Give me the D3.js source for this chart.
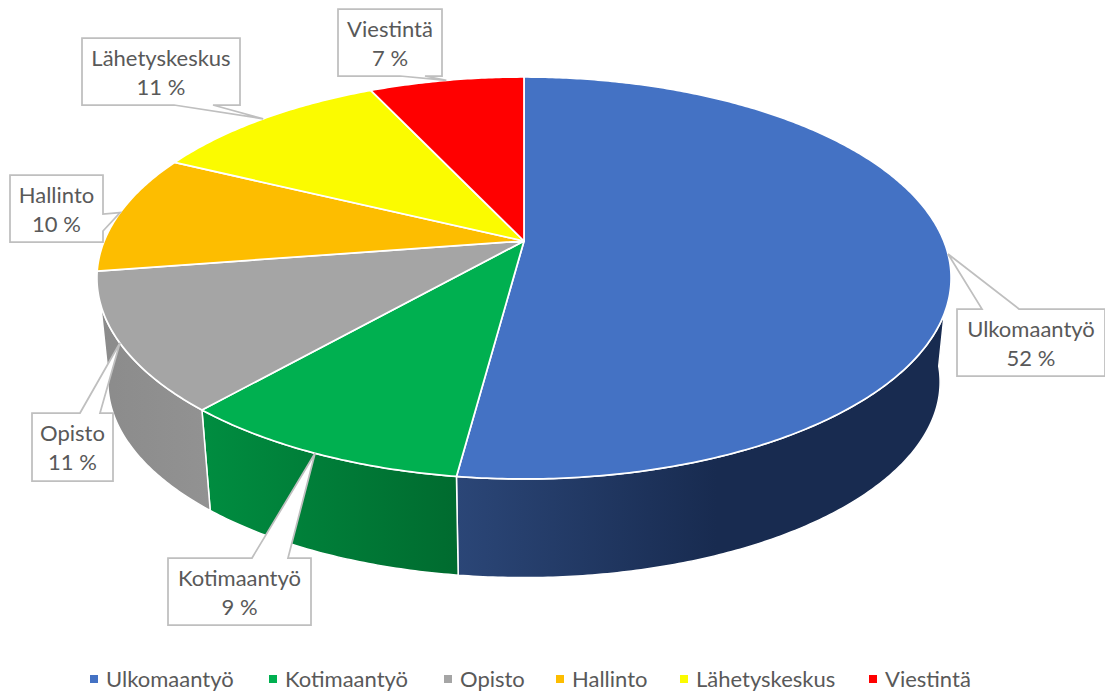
<!DOCTYPE html>
<html>
<head>
<meta charset="utf-8">
<script src="https://cdn.jsdelivr.net/npm/d3@7"></script>
<style>
  html, body { margin: 0; padding: 0; background: #fff; }
  text { font-family: Lato, "Open Sans", sans-serif; fill: #595959; }
</style>
</head>
<body>
<div id="chart"></div>
<script>
// data (the labels show these rounded)
const categories = ["Ulkomaantyö", "Kotimaantyö", "Opisto", "Hallinto", "Lähetyskeskus", "Viestintä"]
const shares = [52.1, 9.4, 11.1, 9.6, 10.8, 7.0]
const shareLabels = ["52 %", "9 %", "11 %", "10 %", "11 %", "7 %"]

const colors = ["#4472c4", "#00b050", "#a5a5a5", "#fdbd00", "#fbfb00", "#ff0000"]
// wall gradient, left to right
const wallShades = [["#2b4677", "#182b50"], ["#008d40", "#006b2f"], ["#8b8b8b", "#929292"], null, null, null]

const width = 1105
const height = 691

// the pie is seen in perspective: apex is not in the middle of the ellipse
const apex = {x: 524, y: 241}
const persp = 0.184
const topRim = {a: 419.8, b: 194.2, y: apex.y}
const bottomRim = {a: 409, b: 189, y: 346}

function project(angle, rim) {
    const u = Math.sin(angle), v = Math.cos(angle)
    const w = 1 + persp * v
    return [apex.x + rim.a * u / w, rim.y - rim.b * v / w]
}

function arcPoints(a0, a1, rim) {
    const n = Math.max(2, Math.ceil(Math.abs(a1 - a0) / 0.01))
    return d3.range(n + 1).map(i => project(a0 + (a1 - a0) * i / n, rim))
}

const svg = d3.select("#chart").append("svg")
    .attr("width", width)
    .attr("height", height)
    .style("display", "block")

const color = d3.scaleOrdinal().domain(categories).range(colors)
const pie = d3.pie().sort(null).value(d => d.share)
const slices = pie(categories.map((c, i) => ({name: c, share: shares[i], label: shareLabels[i], shade: wallShades[i]})))
const line = d3.line()
const defs = svg.append("defs")

// side walls, only for slices facing the viewer
const wallFrom = 96 * Math.PI / 180
const front = slices.filter(s => {
    const mid = (s.startAngle + s.endAngle) / 2
    return mid > Math.PI / 2 && mid < 3 * Math.PI / 2
})

front.forEach((s, i) => {
    const a0 = Math.max(s.startAngle, wallFrom)
    const a1 = s.endAngle
    const pts = arcPoints(a0, a1, topRim).concat(arcPoints(a1, a0, bottomRim))
    const xs = pts.map(p => p[0])
    // blue goes flat well before its right end
    const x1 = i == 0 ? d3.min(xs) + 260 : d3.max(xs)
    const grad = defs.append("linearGradient")
        .attr("id", "wall" + i)
        .attr("gradientUnits", "userSpaceOnUse")
        .attr("x1", d3.min(xs)).attr("x2", x1)
        .attr("y1", 0).attr("y2", 0)
    grad.append("stop").attr("offset", 0).attr("stop-color", s.data.shade[0])
    grad.append("stop").attr("offset", 1).attr("stop-color", s.data.shade[1])
    svg.append("path")
        .attr("d", line(pts) + "Z")
        .attr("fill", "url(#wall" + i + ")")
        .attr("stroke", "#fff")
        .attr("stroke-width", 1.5)
        .attr("stroke-linejoin", "round")
})

// top face
svg.selectAll("path.slice")
    .data(slices)
    .enter()
    .append("path")
    .attr("class", "slice")
    .attr("d", d => line([[apex.x, apex.y]].concat(arcPoints(d.startAngle, d.endAngle, topRim))) + "Z")
    .attr("fill", d => color(d.data.name))
    .attr("stroke", "#fff")
    .attr("stroke-width", 1.75)
    .attr("stroke-linejoin", "round")

// callouts: box and the side of the box the pointer leaves from
const callouts = [
    {x: 957, y: 309, w: 148, h: 67, side: "top", p0: 982, p1: 1019},
    {x: 168, y: 558, w: 143, h: 67, side: "top", p0: 252, p1: 288},
    {x: 32, y: 413, w: 81, h: 68, side: "top", p0: 80, p1: 100},
    {x: 10, y: 175, w: 93, h: 67, side: "right", p0: 214, p1: 231},
    {x: 82, y: 38, w: 158, h: 67, side: "bottom", p0: 174, p1: 213},
    {x: 338, y: 9, w: 104, h: 67, side: "bottom", p0: 400, p1: 425}
]

function calloutPath(c, tip) {
    const r = c.x + c.w, b = c.y + c.h
    let pts
    if (c.side == "top") {
        pts = [[c.x, c.y], [c.p0, c.y], tip, [c.p1, c.y], [r, c.y], [r, b], [c.x, b]]
    } else if (c.side == "right") {
        pts = [[c.x, c.y], [r, c.y], [r, c.p0], tip, [r, c.p1], [r, b], [c.x, b]]
    } else {
        pts = [[c.x, c.y], [r, c.y], [r, b], [c.p1, b], tip, [c.p0, b], [c.x, b]]
    }
    return line(pts) + "Z"
}

slices.forEach((s, i) => {
    const c = callouts[i]
    const tip = project((s.startAngle + s.endAngle) / 2, topRim)
    svg.append("path")
        .attr("d", calloutPath(c, tip))
        .attr("fill", "#fff")
        .attr("stroke", "#bfbfbf")
        .attr("stroke-width", 1.75)
        .attr("stroke-linejoin", "miter")
    svg.append("text")
        .attr("x", c.x + c.w / 2)
        .attr("y", c.y + 28)
        .attr("text-anchor", "middle")
        .style("font-size", "22px")
        .text(s.data.name)
    svg.append("text")
        .attr("x", c.x + c.w / 2)
        .attr("y", c.y + 57)
        .attr("text-anchor", "middle")
        .style("font-size", "22px")
        .text(s.data.label)
})

// legend
const legendX = [90, 269, 444, 556, 680, 869]
const legendY = 679
const legend = svg.selectAll("g.legend")
    .data(categories)
    .enter()
    .append("g")
    .attr("class", "legend")
    .attr("transform", (d, i) => "translate(" + legendX[i] + "," + legendY + ")")

legend.append("rect")
    .attr("x", 0)
    .attr("y", -4)
    .attr("width", 8)
    .attr("height", 8)
    .attr("fill", d => color(d))

legend.append("text")
    .attr("x", 16)
    .attr("y", 8)
    .style("font-size", "22px")
    .text(d => d)
</script>
</body>
</html>
